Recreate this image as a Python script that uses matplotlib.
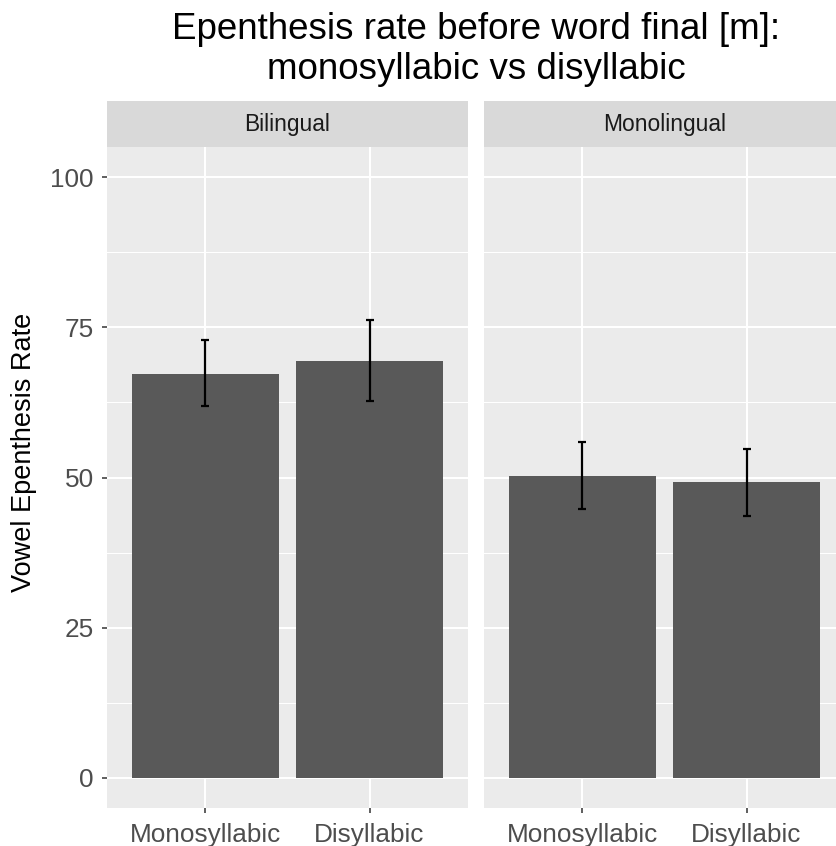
import numpy as np
import matplotlib
matplotlib.use("Agg")
import matplotlib.pyplot as plt

plt.rcParams['font.family'] = ['Liberation Sans', 'DejaVu Sans']

# vowel epenthesis rate (%) per speaker group and word type
groups = ['Bilingual', 'Monolingual']
syllables = ['Monosyllabic', 'Disyllabic']
rate = [[67.3, 69.4], [50.3, 49.2]]
err_low = [[61.9, 62.8], [44.8, 43.6]]
err_high = [[72.8, 76.2], [55.9, 54.7]]
y_ticks = [0, 25, 50, 75, 100]

W, H = 836, 846
fig = plt.figure(figsize=(W / 100, H / 100), dpi=100)

def px_box(x0, y0, x1, y1):
    # pixel box (top-left origin) -> figure fraction rect
    return [x0 / W, 1 - y1 / H, (x1 - x0) / W, (y1 - y0) / H]

panel_left = [107, 484]
panel_w = 361
panel_top, panel_bot = 147, 808
strip_top = 101

x = np.arange(1, len(syllables) + 1)
for i, grp in enumerate(groups):
    x0 = panel_left[i]
    ax = fig.add_axes(px_box(x0, panel_top, x0 + panel_w, panel_bot))
    ax.set_facecolor('#EBEBEB')
    for s in ax.spines.values():
        s.set_visible(False)

    ax.set_xlim(0.4, 2.6)
    ax.set_ylim(-5, 105)
    ax.set_yticks(y_ticks)
    ax.set_yticks([12.5, 37.5, 62.5, 87.5], minor=True)
    ax.set_xticks(x)
    ax.set_xticklabels(syllables)
    ax.grid(True, which='major', color='white', lw=1.5)
    ax.grid(True, which='minor', axis='y', color='white', lw=0.75)
    ax.set_axisbelow(True)

    vals = np.array(rate[i])
    lo = vals - np.array(err_low[i])
    hi = np.array(err_high[i]) - vals
    ax.bar(x, vals, width=0.9, color='#595959', zorder=2)
    ax.errorbar(x, vals, yerr=[lo, hi], fmt='none', ecolor='black',
                elinewidth=1.6, capsize=2.9, capthick=1.6, zorder=3)

    ax.tick_params(axis='both', which='major', length=3.6, width=1.1,
                   color='#333333', labelcolor='#4D4D4D', labelsize=18.8)
    ax.tick_params(axis='x', which='major', pad=7.5)
    ax.tick_params(axis='y', which='major', pad=6)
    ax.tick_params(axis='y', which='minor', length=0)
    if i > 0:
        ax.tick_params(axis='y', which='major', length=0, labelleft=False)

    # facet strip
    sax = fig.add_axes(px_box(x0, strip_top, x0 + panel_w, panel_top))
    sax.set_facecolor('#D9D9D9')
    sax.set_xticks([])
    sax.set_yticks([])
    for s in sax.spines.values():
        s.set_visible(False)
    sax.text(0.5, 0.5, grp, ha='center', va='center', fontsize=16.4,
             color='#1A1A1A', transform=sax.transAxes)

fig.text(476 / W, 1 - 12 / H, 'Epenthesis rate before word final [m]:\nmonosyllabic vs disyllabic',
         ha='center', va='top', fontsize=26.5, color='black', linespacing=1.18)
fig.text(24 / W, 1 - 452 / H, 'Vowel Epenthesis Rate', rotation=90,
         ha='center', va='center', fontsize=19.5, color='black')

fig.savefig('out.png', dpi=100)
